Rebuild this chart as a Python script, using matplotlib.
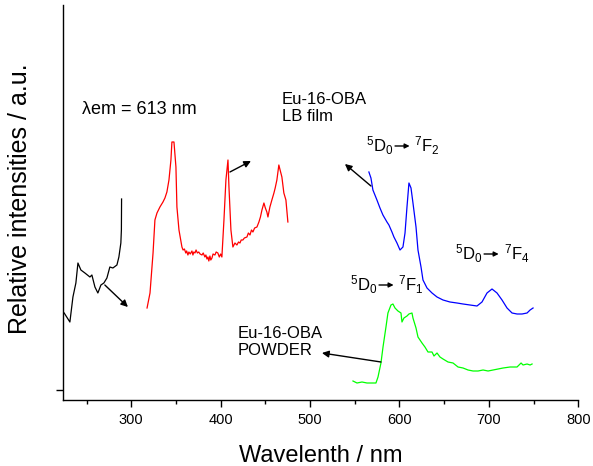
import matplotlib
matplotlib.use('Agg')
import matplotlib.pyplot as plt
from matplotlib.text import OffsetFrom

plt.rcParams['font.family'] = ['Liberation Sans', 'DejaVu Sans']
plt.rcParams['mathtext.fontset'] = 'custom'
plt.rcParams['mathtext.rm'] = 'Liberation Sans'
plt.rcParams['mathtext.it'] = 'Liberation Sans:italic'

# Excitation spectrum of the powder (black, short UV part)
black_wl = [225.0, 231.4, 234.8, 238.1, 240.4, 243.7, 248.2, 253.8, 256.0, 259.4,
            262.7, 266.1, 269.4, 272.8, 276.1, 279.5, 284.0, 286.2, 288.4, 289.0, 289.2]
black_int = [87, 78, 103, 117, 137, 130, 127, 123, 125, 113,
             107, 115, 117, 122, 133, 132, 135, 143, 157, 170, 201]

# Excitation spectrum of the LB film (red)
red_wl = [317.7, 321.0, 324.4, 326.5, 328.8, 332.1, 335.5, 337.7, 339.9, 342.2,
          344.4, 345.5, 347.8, 350.0, 351.1, 353.4, 356.7, 358.0, 359.5, 361.0,
          362.0, 363.4, 364.5, 366.0, 367.9, 369.0, 370.0, 371.3, 372.5, 374.0,
          375.5, 377.0, 379.1, 380.5, 382.4, 383.5, 384.7, 385.8, 386.8, 388.0,
          389.0, 390.3, 391.5, 393.6, 395.0, 396.9, 398.5, 400.0, 401.4, 403.7,
          405.9, 408.2, 409.3, 411.5, 413.7, 416.0, 418.2, 420.0, 421.6, 423.0,
          424.9, 426.5, 429.4, 431.0, 432.8, 434.5, 436.1, 438.0, 440.6, 442.8,
          444.5, 446.2, 448.4, 450.0, 451.7, 452.9, 455.1, 457.3, 459.6, 461.0,
          462.9, 465.1, 466.5, 468.5, 470.7, 473.0, 475.2]
red_int = [92, 107, 147, 180, 187, 193, 198, 202, 208, 220,
           240, 258, 258, 233, 193, 170, 153, 150, 151, 147,
           149, 145, 148, 146, 149, 145, 148, 147, 150, 147,
           148, 146, 145, 147, 143, 145, 141, 143, 139, 144,
           140, 142, 146, 145, 148, 147, 143, 146, 143, 180,
           220, 240, 213, 170, 153, 157, 155, 158, 157, 160,
           160, 162, 163, 167, 165, 170, 168, 172, 173, 178,
           183, 190, 197, 192, 188, 183, 193, 200, 207, 212,
           220, 235, 230, 223, 207, 200, 178]

# Emission spectrum of the LB film (blue)
blue_wl = [565.8, 568.1, 570.3, 574.8, 578.2, 581.5, 586.0, 588.2, 591.6, 593.8,
           597.2, 600.6, 603.9, 606.2, 608.4, 610.6, 612.9, 615.1, 618.5, 620.7,
           624.1, 626.3, 630.8, 636.4, 642.0, 648.7, 656.5, 664.3, 671.1, 678.9,
           686.7, 692.3, 697.9, 703.5, 709.1, 714.7, 720.3, 725.9, 731.5, 737.1,
           742.7, 746.1, 749.4]
blue_int = [228, 222, 210, 200, 192, 185, 178, 175, 168, 163,
            157, 150, 153, 167, 193, 217, 212, 197, 173, 150,
            133, 120, 112, 107, 103, 100, 98, 97, 96, 95,
            94, 98, 107, 111, 107, 100, 92, 87, 86, 86,
            87, 90, 92]

# Emission spectrum of the powder (green)
green_wl = [548.0, 552.5, 558.1, 563.7, 569.2, 573.7, 576.0, 579.3, 581.6, 584.9,
            587.1, 590.5, 592.7, 595.0, 598.3, 601.7, 602.8, 605.0, 608.4, 610.6,
            614.0, 615.1, 618.5, 620.7, 625.2, 628.5, 631.9, 636.4, 638.6, 642.0,
            645.3, 648.7, 654.3, 659.9, 665.5, 671.1, 676.7, 682.3, 687.9, 693.5,
            699.1, 704.7, 710.3, 715.9, 723.7, 731.5, 736.0, 738.2, 742.7, 746.1,
            748.3]
green_int = [19, 17, 18, 17, 17, 17, 23, 37, 53, 73,
             87, 95, 96, 92, 89, 87, 78, 82, 84, 86,
             87, 82, 72, 63, 57, 53, 48, 48, 44, 47,
             43, 41, 38, 37, 33, 32, 30, 29, 29, 30,
             29, 30, 31, 32, 33, 33, 37, 35, 36, 35,
             36]


def arrow(ax, start, end):
    """ Draws one of the thin pointer arrows between the labels and curves. """
    ax.annotate('', xy=end, xytext=start,
                arrowprops=dict(arrowstyle='-|>', color='k', lw=1.0,
                                mutation_scale=10, shrinkA=0, shrinkB=0))


def transition(ax, x, y, j, size=12):
    """ Writes a 5D0 -> 7Fj label centred on its little arrow at (x, y). """
    ref = OffsetFrom(ax.transData, (x, y), unit='points')
    ax.annotate(r'$^{5}\mathrm{D}_{0}$', xy=(x, y), xytext=(-6, -4.3),
                textcoords='offset points', ha='right', va='baseline', fontsize=size)
    ax.annotate('', xy=(5.5, 0), xycoords=ref, xytext=(-5, 0), textcoords=ref,
                arrowprops=dict(arrowstyle='-|>', color='k', lw=1.0,
                                mutation_scale=7, shrinkA=0, shrinkB=0))
    ax.annotate(r'$^{7}\mathrm{F}_{%d}$' % j, xy=(x, y), xytext=(9, -4.3),
                textcoords='offset points', ha='left', va='baseline', fontsize=size)


fig = plt.figure(figsize=(5.93, 4.66), dpi=100)
ax = fig.add_axes([0.1067, 0.1427, 0.8685, 0.8466])

ax.plot(black_wl, black_int, color='k', lw=0.9)
ax.plot(red_wl, red_int, color='#ff0000', lw=0.9)
ax.plot(blue_wl, blue_int, color='#0000ff', lw=0.9)
ax.plot(green_wl, green_int, color='#00ff00', lw=0.9)

ax.set_xlim(224, 800)
ax.set_ylim(0.5, 395)
ax.set_xticks([300, 400, 500, 600, 700, 800])
ax.set_xticks([250, 350, 450, 550, 650, 750], minor=True)
ax.set_yticks([10.5])
ax.set_yticklabels([''])

for loc in ['top', 'right']:
    ax.spines[loc].set_visible(False)
for loc in ['left', 'bottom']:
    ax.spines[loc].set_linewidth(1.0)
ax.tick_params(which='major', direction='out', length=5, width=1.0, labelsize=10.5, pad=5)
ax.tick_params(which='minor', direction='out', length=3, width=1.0)

ax.set_xlabel('Wavelenth / nm', fontsize=17)
ax.xaxis.set_label_coords(0.5, -0.115)
ax.set_ylabel('Relative intensities / a.u.', fontsize=18)
ax.yaxis.set_label_coords(-0.06, 0.51)

# Labels
ax.text(245, 290, 'λem = 613 nm', fontsize=13, va='center')
ax.text(468.6, 292, 'Eu-16-OBA\nLB film', fontsize=12, va='center', linespacing=1.15)
ax.text(418.5, 58, 'Eu-16-OBA\nPOWDER', fontsize=12, va='center', linespacing=1.15)

transition(ax, 602.8, 254, 2)
transition(ax, 702.4, 146, 4)
transition(ax, 584.9, 115, 1)

# Pointer arrows from curves to labels
arrow(ax, (270.5, 115), (296.3, 93))
arrow(ax, (410.4, 228), (433.9, 239))
arrow(ax, (568.1, 214), (539.0, 236))
arrow(ax, (579.3, 38), (513.3, 47))

fig.savefig('out.png', dpi=100)
